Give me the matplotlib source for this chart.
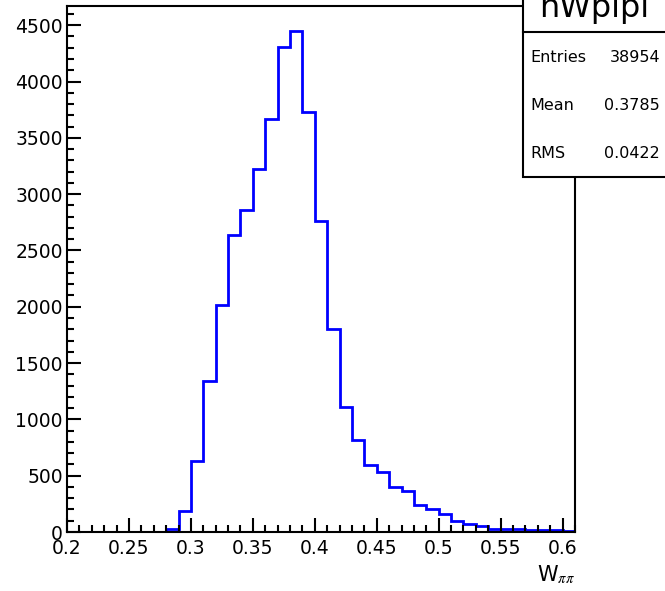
import numpy as np
import matplotlib
matplotlib.use('Agg')
import matplotlib.pyplot as plt
from matplotlib.ticker import MultipleLocator, FormatStrFormatter
from matplotlib.patches import Rectangle
from matplotlib.lines import Line2D

# bin edges 0.20 .. 0.61, width 0.01
bin_lo = 0.20
bin_hi = 0.61
counts = [0, 0, 0, 0, 0, 0, 0, 0,
          30, 189, 634, 1342, 2012, 2637, 2860, 3224, 3671, 4309,
          4448, 3728, 2759, 1805, 1114, 818, 596, 536, 403, 364,
          240, 207, 157, 98, 68, 53, 30, 26, 24, 22, 22, 20, 12]

hist_name = 'hWpipi'
stat_names = ['Entries', 'Mean', 'RMS']
stat_values = ['38954', '0.3785', '0.0422']

plt.rcParams['mathtext.fontset'] = 'stix'

edges = np.linspace(bin_lo, bin_hi, len(counts) + 1)

fig = plt.figure(figsize=(6.65, 5.91), dpi=100)
ax = fig.add_axes([67/665, 1 - 532/591, (575 - 67)/665, (532 - 6)/591])

ax.stairs(counts, edges, color='blue', lw=2, baseline=0)
ax.set_xlim(bin_lo, bin_hi)
ax.set_ylim(0, max(counts) * 1.05)

ax.xaxis.set_major_locator(MultipleLocator(0.05))
ax.xaxis.set_minor_locator(MultipleLocator(0.01))
ax.yaxis.set_major_locator(MultipleLocator(500))
ax.yaxis.set_minor_locator(MultipleLocator(100))
ax.xaxis.set_major_formatter(FormatStrFormatter('%g'))
ax.yaxis.set_major_formatter(FormatStrFormatter('%g'))

ax.tick_params(which='both', direction='in', top=False, right=False, width=1.5, labelsize=13.5)
ax.tick_params(which='major', length=10)
ax.tick_params(which='minor', length=5)
ax.tick_params(axis='x', pad=5)
ax.tick_params(axis='y', pad=3)
for s in ax.spines.values():
    s.set_linewidth(1.5)

fig.text(575/665, 1 - 575/591, r'W$_{\pi\pi}$', ha='right', va='center', fontsize=15)

# stats box
bx0, by0 = 523/665, 1 - 177/591
box = Rectangle((bx0, by0), 1.2 - bx0, 1.2 - by0, transform=fig.transFigure,
                facecolor='white', edgecolor='black', lw=1.5, zorder=5)
fig.patches.append(box)
sep_y = 1 - 32/591
fig.lines.append(Line2D([bx0, 1], [sep_y, sep_y], transform=fig.transFigure,
                        color='black', lw=1.5, zorder=6))
fig.text((523 + 665) / 2 / 665, 1 - 17/591, hist_name, ha='center', va='baseline',
         fontsize=23, zorder=7)
for i, (n, v) in enumerate(zip(stat_names, stat_values)):
    yy = 1 - (57 + i * 48) / 591
    fig.text(530/665, yy, n, ha='left', va='center', fontsize=11.5, zorder=7)
    fig.text(660/665, yy, v, ha='right', va='center', fontsize=11.5, zorder=7)

fig.savefig('out.png', dpi=100)
